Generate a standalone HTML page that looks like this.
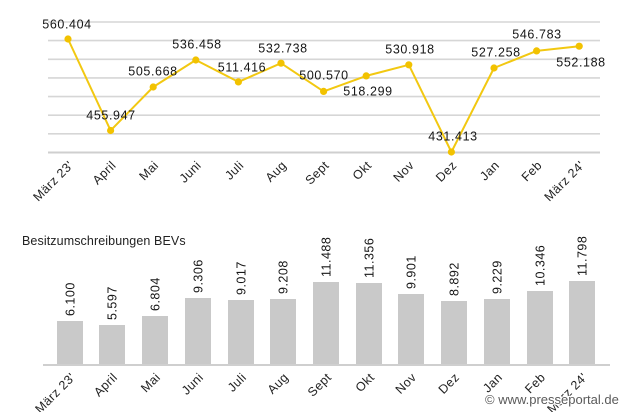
<!DOCTYPE html>
<html>
<head>
<meta charset="utf-8">
<style>
html,body{margin:0;padding:0;background:#fff;}
svg{display:block;}
text{font-family:"Liberation Sans",Arial,sans-serif;}
</style>
</head>
<body>
<svg width="630" height="412" viewBox="0 0 630 412" xmlns="http://www.w3.org/2000/svg">
<rect width="630" height="412" fill="#fff"/>
<!-- top gridlines -->
<g stroke="#d6d6d6" stroke-width="1.6">
<line x1="48" x2="600" y1="22" y2="22"/>
<line x1="48" x2="600" y1="40.6" y2="40.6"/>
<line x1="48" x2="600" y1="59.3" y2="59.3"/>
<line x1="48" x2="600" y1="77.9" y2="77.9"/>
<line x1="48" x2="600" y1="96.6" y2="96.6"/>
<line x1="48" x2="600" y1="115.2" y2="115.2"/>
<line x1="48" x2="600" y1="133.8" y2="133.8"/>
</g>
<line x1="48" x2="600" y1="152.5" y2="152.5" stroke="#cfcfcf" stroke-width="2"/>
<!-- line -->
<polyline fill="none" stroke="#f2c811" stroke-width="2" stroke-linejoin="round"
points="68,39 110.6,130.5 153.2,87 195.8,60 238.4,81.9 281,63.2 323.6,91.4 366.2,75.9 408.8,64.8 451.4,152 494,68 536.6,50.9 579.2,46.2"/>
<g fill="#f2c200">
<circle cx="68" cy="39" r="3.6"/>
<circle cx="110.6" cy="130.5" r="3.6"/>
<circle cx="153.2" cy="87" r="3.6"/>
<circle cx="195.8" cy="60" r="3.6"/>
<circle cx="238.4" cy="81.9" r="3.6"/>
<circle cx="281" cy="63.2" r="3.6"/>
<circle cx="323.6" cy="91.4" r="3.6"/>
<circle cx="366.2" cy="75.9" r="3.6"/>
<circle cx="408.8" cy="64.8" r="3.6"/>
<circle cx="451.4" cy="152" r="3.6"/>
<circle cx="494" cy="68" r="3.6"/>
<circle cx="536.6" cy="50.9" r="3.6"/>
<circle cx="579.2" cy="46.2" r="3.6"/>
</g>
<!-- value labels -->
<g font-size="12.5" fill="#161616" text-anchor="middle" letter-spacing="0.6">
<text x="67" y="28.5">560.404</text>
<text x="111" y="119.5">455.947</text>
<text x="153" y="75.5">505.668</text>
<text x="197" y="48.5">536.458</text>
<text x="242" y="71.5">511.416</text>
<text x="283" y="52.5">532.738</text>
<text x="324" y="79.5">500.570</text>
<text x="368" y="95.5">518.299</text>
<text x="410" y="53.5">530.918</text>
<text x="453" y="140.5">431.413</text>
<text x="496" y="56.5">527.258</text>
<text x="537" y="38.5">546.783</text>
<text x="581" y="66.5">552.188</text>
</g>
<!-- top x labels -->
<g font-size="12.5" fill="#222" text-anchor="end" letter-spacing="0.4">
<text transform="translate(71,163) rotate(-45)" dy="0.35em">März 23'</text>
<text transform="translate(113.6,163) rotate(-45)" dy="0.35em">April</text>
<text transform="translate(156.2,163) rotate(-45)" dy="0.35em">Mai</text>
<text transform="translate(198.8,163) rotate(-45)" dy="0.35em">Juni</text>
<text transform="translate(241.4,163) rotate(-45)" dy="0.35em">Juli</text>
<text transform="translate(284,163) rotate(-45)" dy="0.35em">Aug</text>
<text transform="translate(326.6,163) rotate(-45)" dy="0.35em">Sept</text>
<text transform="translate(369.2,163) rotate(-45)" dy="0.35em">Okt</text>
<text transform="translate(411.8,163) rotate(-45)" dy="0.35em">Nov</text>
<text transform="translate(454.4,163) rotate(-45)" dy="0.35em">Dez</text>
<text transform="translate(497,163) rotate(-45)" dy="0.35em">Jan</text>
<text transform="translate(539.6,163) rotate(-45)" dy="0.35em">Feb</text>
<text transform="translate(582.2,163) rotate(-45)" dy="0.35em">März 24'</text>
</g>
<!-- bottom chart title -->
<text x="22" y="245" font-size="12.5" fill="#222" letter-spacing="0.1">Besitzumschreibungen BEVs</text>
<!-- bars -->
<g fill="#c9c9c9">
<rect x="57" y="321" width="26" height="44"/>
<rect x="99" y="325" width="26" height="40"/>
<rect x="142" y="316" width="26" height="49"/>
<rect x="185" y="298" width="26" height="67"/>
<rect x="228" y="300" width="26" height="65"/>
<rect x="270" y="299" width="26" height="66"/>
<rect x="313" y="282" width="26" height="83"/>
<rect x="356" y="283" width="26" height="82"/>
<rect x="398" y="294" width="26" height="71"/>
<rect x="441" y="301" width="26" height="64"/>
<rect x="484" y="299" width="26" height="66"/>
<rect x="527" y="291" width="26" height="74"/>
<rect x="569" y="281" width="26" height="84"/>
</g>
<line x1="43" x2="610" y1="365" y2="365" stroke="#cfcfcf" stroke-width="2"/>
<!-- bar value labels -->
<g font-size="12.5" fill="#161616" letter-spacing="0.5">
<text transform="translate(70,316) rotate(-90)" dy="0.35em">6.100</text>
<text transform="translate(112,320) rotate(-90)" dy="0.35em">5.597</text>
<text transform="translate(155,311) rotate(-90)" dy="0.35em">6.804</text>
<text transform="translate(198,293) rotate(-90)" dy="0.35em">9.306</text>
<text transform="translate(241,295) rotate(-90)" dy="0.35em">9.017</text>
<text transform="translate(283,294) rotate(-90)" dy="0.35em">9.208</text>
<text transform="translate(326,277) rotate(-90)" dy="0.35em">11.488</text>
<text transform="translate(369,278) rotate(-90)" dy="0.35em">11.356</text>
<text transform="translate(411,289) rotate(-90)" dy="0.35em">9.901</text>
<text transform="translate(454,296) rotate(-90)" dy="0.35em">8.892</text>
<text transform="translate(497,294) rotate(-90)" dy="0.35em">9.229</text>
<text transform="translate(540,286) rotate(-90)" dy="0.35em">10.346</text>
<text transform="translate(582,276) rotate(-90)" dy="0.35em">11.798</text>
</g>
<!-- bottom x labels -->
<g font-size="12.5" fill="#222" text-anchor="end" letter-spacing="0.4">
<text transform="translate(73,375) rotate(-45)" dy="0.35em">März 23'</text>
<text transform="translate(115,375) rotate(-45)" dy="0.35em">April</text>
<text transform="translate(158,375) rotate(-45)" dy="0.35em">Mai</text>
<text transform="translate(201,375) rotate(-45)" dy="0.35em">Juni</text>
<text transform="translate(244,375) rotate(-45)" dy="0.35em">Juli</text>
<text transform="translate(286,375) rotate(-45)" dy="0.35em">Aug</text>
<text transform="translate(329,375) rotate(-45)" dy="0.35em">Sept</text>
<text transform="translate(372,375) rotate(-45)" dy="0.35em">Okt</text>
<text transform="translate(414,375) rotate(-45)" dy="0.35em">Nov</text>
<text transform="translate(457,375) rotate(-45)" dy="0.35em">Dez</text>
<text transform="translate(500,375) rotate(-45)" dy="0.35em">Jan</text>
<text transform="translate(543,375) rotate(-45)" dy="0.35em">Feb</text>
<text transform="translate(585,375) rotate(-45)" dy="0.35em">März 24'</text>
</g>
<!-- watermark -->
<text x="485" y="404" font-size="13" fill="#5a5a5a" stroke="#fff" stroke-width="2.5" paint-order="stroke" stroke-linejoin="round">© www.presseportal.de</text>
</svg>
</body>
</html>
